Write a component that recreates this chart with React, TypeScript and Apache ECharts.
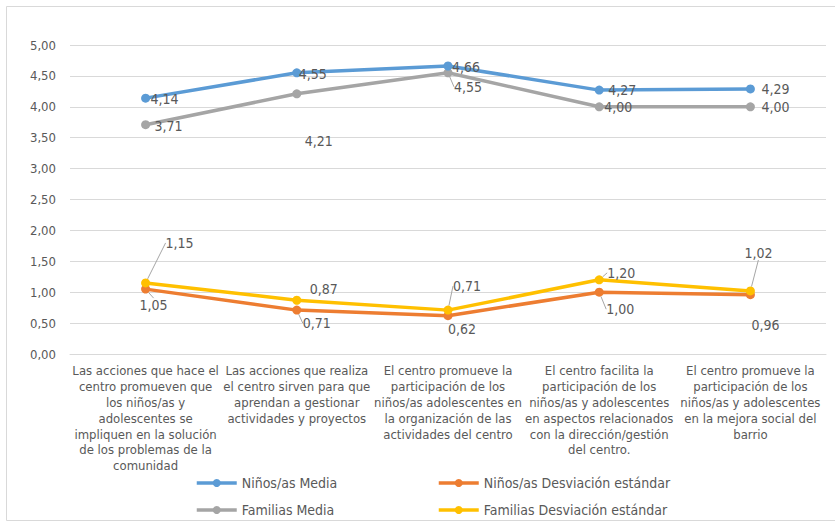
import React, { useEffect, useRef } from "react";
import * as echarts from "echarts";

const categories = [
  "Las acciones que hace el\ncentro promueven que\nlos niños/as y\nadolescentes se\nimpliquen en la solución\nde los problemas de la\ncomunidad",
  "Las acciones que realiza\nel centro sirven para que\naprendan a gestionar\nactividades y proyectos",
  "El centro promueve la\nparticipación de los\nniños/as adolescentes en\nla organización de las\nactividades del centro",
  "El centro facilita la\nparticipación de los\nniños/as y adolescentes\nen aspectos relacionados\ncon la dirección/gestión\ndel centro.",
  "El centro promueve la\nparticipación de los\nniños/as y adolescentes\nen la mejora social del\nbarrio",
];

const ninosMedia = [4.14, 4.55, 4.66, 4.27, 4.29];
const ninosDesv = [1.05, 0.71, 0.62, 1.0, 0.96];
const familiasMedia = [3.71, 4.21, 4.55, 4.0, 4.0];
const familiasDesv = [1.15, 0.87, 0.71, 1.2, 1.02];

const seriesNames = [
  "Niños/as Media",
  "Niños/as Desviación estándar",
  "Familias Media",
  "Familias Desviación estándar",
];
const colors = ["#5B9BD5", "#ED7D31", "#A5A5A5", "#FFC000"];

// label offsets (label centre minus point) per series
const labelOffsets: number[][][] = [
  [[19, 1], [16, 1], [18, 1], [23, 0], [25, 0]],
  [[8, 16], [20, 13], [14, 13], [21, 17], [15, 30]],
  [[23, 1], [22, 47], [20, 14], [19, 0], [25, 0]],
  [[34, -40], [27, -11], [19, -24], [22, -7], [8, -38]],
];
const leaderLines: boolean[][] = [
  [false, false, false, false, false],
  [true, true, false, true, false],
  [false, false, true, false, false],
  [true, false, true, true, true],
];

const FONT = "'Liberation Sans Narrow', 'DejaVu Sans Condensed', Arial, sans-serif";
const TXT = "#595959";

function fmt(v: number) {
  return v.toFixed(2).replace(".", ",");
}

export default function App() {
  const ref = useRef<HTMLDivElement>(null);
  useEffect(() => {
    document.body.style.margin = "0";
    const chart = echarts.init(ref.current!, undefined, { renderer: "svg" });
    const allData = [ninosMedia, ninosDesv, familiasMedia, familiasDesv];
    const series = allData.map((d, si) => ({
      name: seriesNames[si],
      type: "line",
      data: d.map((v, i) => ({
        value: v,
        labelLine: { show: leaderLines[si][i], lineStyle: { color: "#A6A6A6", width: 1 } },
      })),
      symbol: "circle",
      symbolSize: 9,
      lineStyle: { width: 3.5, color: colors[si] },
      itemStyle: { color: colors[si] },
      z: si === 0 || si === 3 ? 3 : 2,
      label: {
        show: true,
        position: "inside",
        formatter: (p: any) => fmt(p.value),
        color: TXT,
        fontFamily: FONT,
        fontSize: 14,
      },
      labelLayout: (p: any) => {
        const o = labelOffsets[si][p.dataIndex];
        return { dx: o[0], dy: o[1] };
      },
    }));
    const legendBase = {
      orient: "vertical",
      top: 476,
      padding: 0,
      itemGap: 13,
      itemWidth: 40,
      itemHeight: 10,
      lineStyle: { width: 3.5 },
      textStyle: { color: TXT, fontFamily: FONT, fontSize: 14 },
    };
    chart.setOption({
      animation: false,
      textStyle: { fontFamily: FONT },
      grid: { left: 70, right: 9, top: 45, bottom: 172 },
      xAxis: {
        type: "category",
        data: categories,
        boundaryGap: true,
        axisLine: { lineStyle: { color: "#D9D9D9", width: 1 } },
        axisTick: { show: false },
        axisLabel: {
          interval: 0,
          color: TXT,
          fontFamily: FONT,
          fontSize: 13,
          lineHeight: 15.8,
          margin: 9,
        },
      },
      yAxis: {
        type: "value",
        min: 0,
        max: 5,
        interval: 0.5,
        axisLine: { show: false },
        axisTick: { show: false },
        splitLine: { lineStyle: { color: "#D9D9D9", width: 1 } },
        axisLabel: {
          formatter: (v: number) => fmt(v),
          color: TXT,
          fontFamily: FONT,
          fontSize: 13,
          margin: 14,
        },
      },
      legend: [
        { ...legendBase, left: 195, data: [seriesNames[0], seriesNames[2]] },
        { ...legendBase, left: 437, data: [seriesNames[1], seriesNames[3]] },
      ],
      graphic: [
        {
          type: "rect",
          shape: { x: 6.5, y: 6.5, width: 840, height: 514 },
          style: { fill: "none", stroke: "#D9D9D9", lineWidth: 1 },
          silent: true,
        },
      ],
      series,
    });
    return () => chart.dispose();
  }, []);
  return <div ref={ref} style={{ width: 835, height: 526 }} />;
}
